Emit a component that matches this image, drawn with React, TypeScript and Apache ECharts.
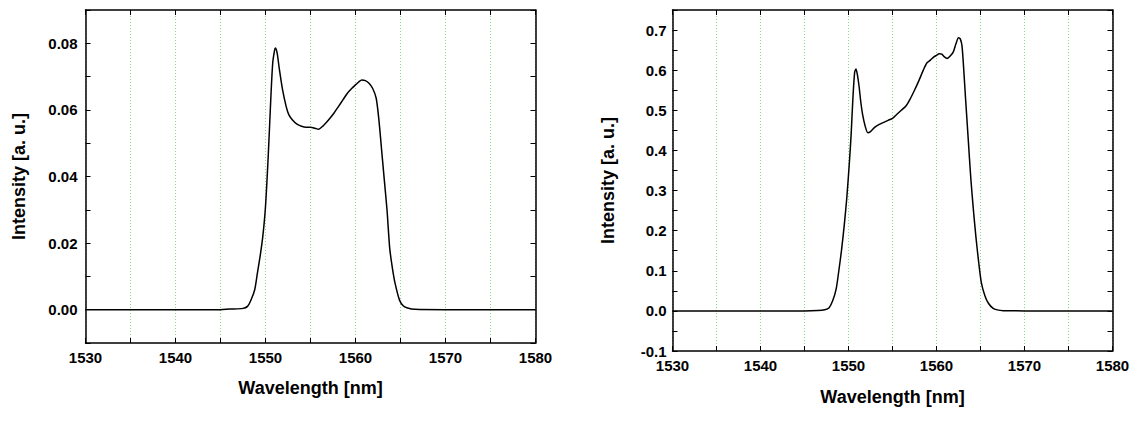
import React, { useEffect, useRef } from "react";
import * as echarts from "echarts";

const leftWavelength = [
  1530, 1540, 1545, 1546, 1547.5, 1548.0, 1548.4, 1548.8, 1549.1, 1549.4, 1549.7, 1550.0,
  1550.3, 1550.6, 1550.8, 1551.0, 1551.1, 1551.3, 1551.5, 1551.9, 1552.3, 1552.6, 1553.0,
  1553.5, 1554.0, 1554.5, 1555.0, 1555.5, 1555.9, 1556.4, 1557.0, 1557.6, 1558.1, 1558.6,
  1559.1, 1559.6, 1560.0, 1560.4, 1560.7, 1561.1, 1561.5, 1561.9, 1562.3, 1562.6, 1562.9,
  1563.2, 1563.5, 1563.8, 1564.1, 1564.4, 1564.9, 1565.3, 1565.7, 1566.6, 1570, 1580,
];
const leftIntensity = [
  0, 0, 0, 0.0002, 0.0004, 0.001, 0.003, 0.006, 0.011, 0.016, 0.022, 0.031,
  0.046, 0.064, 0.074, 0.0778, 0.0786, 0.077, 0.073, 0.066, 0.061, 0.0585, 0.057,
  0.0557, 0.0551, 0.0548, 0.0548, 0.0545, 0.0542, 0.0552, 0.057, 0.059, 0.061, 0.063,
  0.065, 0.0665, 0.0675, 0.0685, 0.069, 0.0688, 0.068, 0.0665, 0.0635, 0.057, 0.048,
  0.039, 0.03, 0.0185, 0.0125, 0.0079, 0.0028, 0.0012, 0.0006, 0.0001, 0, 0,
];

const rightWavelength = [
  1530, 1545, 1546.5, 1547.3, 1547.8, 1548.2, 1548.6, 1548.9, 1549.2, 1549.5, 1549.8,
  1550.1, 1550.3, 1550.5, 1550.7, 1550.85, 1551.0, 1551.2, 1551.4, 1551.6, 1551.9, 1552.2,
  1552.5, 1553.0, 1553.5, 1554.0, 1554.5, 1555.0, 1555.5, 1556.0, 1556.5, 1557.0, 1557.5,
  1558.0, 1558.5, 1558.9, 1559.3, 1559.7, 1560.0, 1560.3, 1560.6, 1560.9, 1561.2, 1561.5,
  1561.9, 1562.2, 1562.5, 1562.7, 1562.9, 1563.1, 1563.3, 1563.6, 1563.9, 1564.2, 1564.5,
  1564.8, 1565.1, 1565.5, 1565.9, 1566.4, 1566.9, 1567.6, 1570, 1580,
];
const rightIntensity = [
  0, 0, 0.001, 0.003, 0.008, 0.025, 0.055, 0.1, 0.15, 0.21, 0.28,
  0.37, 0.44, 0.53, 0.595, 0.603, 0.59, 0.56, 0.52, 0.49, 0.46, 0.444,
  0.447, 0.458, 0.465, 0.47, 0.475, 0.48, 0.49, 0.5, 0.51, 0.528, 0.55,
  0.574, 0.6, 0.618, 0.625, 0.633, 0.637, 0.641, 0.64, 0.633, 0.629, 0.634,
  0.645, 0.665, 0.681, 0.678, 0.66, 0.6, 0.53, 0.43, 0.33, 0.25, 0.18,
  0.12, 0.07, 0.038, 0.019, 0.007, 0.0025, 0.0005, 0, 0,
];

const xMin = 1530;
const xMax = 1580;
const leftYMin = -0.01;
const leftYMax = 0.09;
const rightYMin = -0.1;
const rightYMax = 0.75;

const xTitle = "Wavelength [nm]";
const yTitle = "Intensity [a. u.]";

const FONT = "'Liberation Sans', Arial, sans-serif";

export default function App() {
  const ref = useRef<HTMLDivElement>(null);

  useEffect(() => {
    if (!ref.current) return;
    const chart = echarts.init(ref.current, null, { renderer: "svg" });

    const axisLine = { show: true, onZero: false, lineStyle: { color: "#000", width: 1.5 } };
    const tick = { show: true, inside: true, length: 5, lineStyle: { color: "#000", width: 1 } };
    const labelBase = { color: "#000", fontFamily: FONT, fontWeight: "bold" as const, fontSize: 15 };
    const nameStyle = { color: "#000", fontFamily: FONT, fontWeight: "bold" as const, fontSize: 18 };
    const grid = { show: true, lineStyle: { color: "#86da86", type: [1, 2], width: 1 } };

    const makeX = (gridIndex: number, nameGap: number) => [
      {
        type: "value",
        gridIndex,
        position: "bottom",
        min: xMin,
        max: xMax,
        interval: 5,
        axisLine,
        axisTick: tick,
        splitLine: grid,
        axisLabel: {
          ...labelBase,
          margin: 7,
          formatter: (v: number) => (Math.round(v) % 10 === 0 ? String(Math.round(v)) : ""),
        },
        name: xTitle,
        nameLocation: "middle",
        nameGap,
        nameTextStyle: nameStyle,
      },
      {
        type: "value",
        gridIndex,
        position: "top",
        min: xMin,
        max: xMax,
        interval: 5,
        axisLine,
        axisTick: tick,
        splitLine: { show: false },
        axisLabel: { show: false },
      },
    ];

    const makeY = (
      gridIndex: number,
      min: number,
      max: number,
      interval: number,
      labelStep: number,
      digits: number,
      nameGap: number,
      margin: number
    ) => [
      {
        type: "value",
        gridIndex,
        position: "left",
        min,
        max,
        interval,
        axisLine,
        axisTick: tick,
        splitLine: { show: false },
        axisLabel: {
          ...labelBase,
          margin,
          formatter: (v: number) => {
            const r = v / labelStep;
            if (Math.abs(r - Math.round(r)) > 1e-6) return "";
            return v.toFixed(digits);
          },
        },
        name: yTitle,
        nameLocation: "middle",
        nameGap,
        nameTextStyle: nameStyle,
      },
      {
        type: "value",
        gridIndex,
        position: "right",
        min,
        max,
        interval,
        axisLine,
        axisTick: tick,
        splitLine: { show: false },
        axisLabel: { show: false },
      },
    ];

    const toPairs = (xs: number[], ys: number[]) => xs.map((x, i) => [x, ys[i]]);

    chart.setOption({
      animation: false,
      backgroundColor: "#fff",
      grid: [
        { left: 85.5, top: 10, width: 450, height: 333 },
        { left: 672.5, top: 10, width: 440, height: 341 },
      ],
      xAxis: [...makeX(0, 36), ...makeX(1, 37)],
      yAxis: [
        ...makeY(0, leftYMin, leftYMax, 0.01, 0.02, 2, 58, 8),
        ...makeY(1, rightYMin, rightYMax, 0.05, 0.1, 1, 56, 6),
      ],
      series: [
        {
          type: "line",
          xAxisIndex: 0,
          yAxisIndex: 0,
          data: toPairs(leftWavelength, leftIntensity),
          showSymbol: false,
          smooth: 0.25,
          lineStyle: { color: "#000", width: 1.5 },
        },
        {
          type: "line",
          xAxisIndex: 2,
          yAxisIndex: 2,
          data: toPairs(rightWavelength, rightIntensity),
          showSymbol: false,
          smooth: 0.25,
          lineStyle: { color: "#000", width: 1.5 },
        },
      ],
    });

    return () => chart.dispose();
  }, []);

  return (
    <div
      ref={ref}
      style={{ position: "fixed", left: 0, top: 0, width: 1145, height: 421, background: "#fff" }}
    />
  );
}
